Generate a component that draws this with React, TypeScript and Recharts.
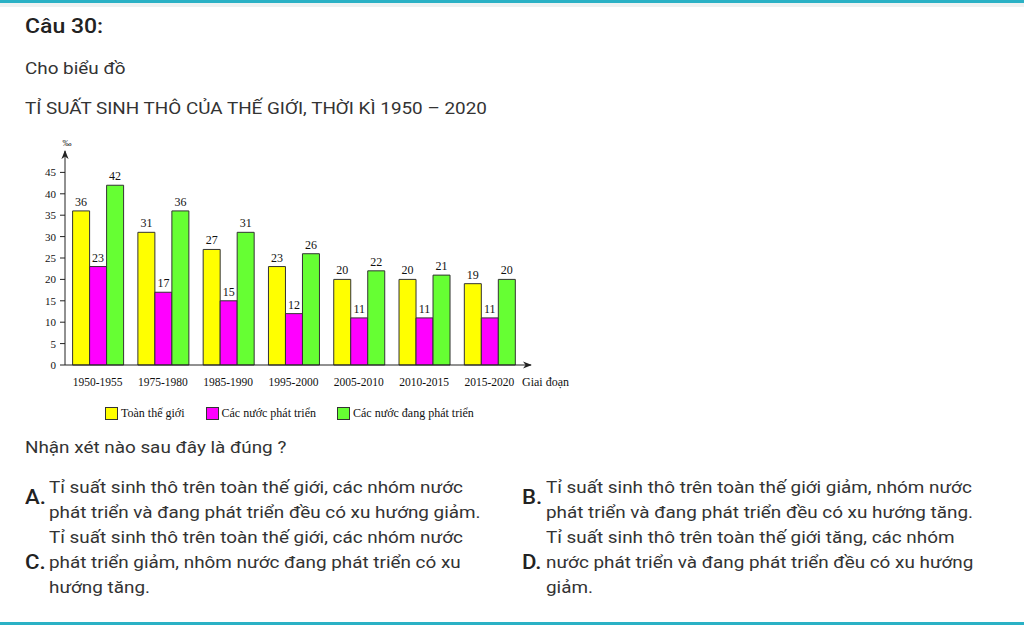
import React from "react";
import { BarChart, Bar, XAxis, YAxis, LabelList, Legend, Label } from "recharts";

const periods = ["1950-1955", "1975-1980", "1985-1990", "1995-2000", "2005-2010", "2010-2015", "2015-2020"];
const world = [36, 31, 27, 23, 20, 20, 19];
const developed = [23, 17, 15, 12, 11, 11, 11];
const developing = [42, 36, 31, 26, 22, 21, 20];
const yTicks = [0, 5, 10, 15, 20, 25, 30, 35, 40, 45];

const seriesNames = ["Toàn thế giới", "Các nước phát triển", "Các nước đang phát triển"];
const COLORS = ["#ffff00", "#ff00ff", "#66ff33"];

const data = periods.map((p, i) => ({
  period: p,
  world: world[i],
  developed: developed[i],
  developing: developing[i],
}));

const SERIF = "'Liberation Serif', 'DejaVu Serif', serif";

const LegendBox = () => (
  <div style={{ display: "flex", alignItems: "center", paddingLeft: 75, height: 18, fontFamily: SERIF, fontSize: 12, color: "#111" }}>
    {seriesNames.map((name, i) => (
      <div key={name} style={{ display: "flex", alignItems: "center", marginRight: 21 }}>
        <div style={{ width: 11, height: 11, background: COLORS[i], border: "1px solid #333", marginRight: 3 }} />
        {name}
      </div>
    ))}
  </div>
);

// the screenshot is slightly stretched horizontally
const stretch: React.CSSProperties = { transform: "scaleX(1.11)", transformOrigin: "left center" };
const text: React.CSSProperties = { position: "absolute", left: 25, fontSize: 17, lineHeight: "24px", color: "#333", whiteSpace: "nowrap", ...stretch };
const optLabel: React.CSSProperties = { position: "absolute", fontSize: 20, fontWeight: 500, lineHeight: "24px", color: "#222", ...stretch };
const optText: React.CSSProperties = { position: "absolute", fontSize: 17, lineHeight: "25px", color: "#333", whiteSpace: "nowrap", ...stretch };

export default function App() {
  return (
    <div style={{ position: "absolute", left: 0, top: 0, width: 1024, height: 627, overflow: "hidden", background: "#fff", fontFamily: "Roboto, sans-serif" }}>
      <svg width="0" height="0" style={{ position: "absolute" }}>
        <defs>
          <marker id="arrowHead" viewBox="0 0 10 10" refX="9" refY="5" markerWidth="9" markerHeight="9" markerUnits="userSpaceOnUse" orient="auto-start-reverse">
            <path d="M0,1 L10,5 L0,9 L3,5 z" fill="#222" />
          </marker>
        </defs>
      </svg>
      <div style={{ position: "absolute", left: 0, top: 0, width: 1024, height: 3, background: "#2ab1c5" }} />
      <div style={{ position: "absolute", left: 0, top: 3, width: 1024, height: 4, background: "#eef2f2" }} />
      <div style={{ position: "absolute", left: 0, top: 622, width: 1024, height: 3, background: "#2ab1c5" }} />

      <div style={{ ...text, top: 14, fontSize: 20, fontWeight: 500, color: "#222", transform: "scaleX(1.15)" }}>Câu 30:</div>
      <div style={{ ...text, top: 56 }}>Cho biểu đồ</div>
      <div style={{ ...text, top: 96 }}>TỈ SUẤT SINH THÔ CỦA THẾ GIỚI, THỜI KÌ 1950 – 2020</div>

      <div style={{ position: "absolute", left: 0, top: 130 }}>
        <BarChart
          width={600}
          height={300}
          data={data}
          margin={{ top: 21, right: 69, left: 30, bottom: 8 }}
          barCategoryGap={7.6}
          barGap={0}
        >
          <XAxis
            dataKey="period"
            padding={{ left: 0, right: 9 }}
            tickLine={false}
            tickMargin={7}
            height={39}
            axisLine={{ stroke: "#222", strokeWidth: 1, markerEnd: "url(#arrowHead)" }}
            tick={{ fontFamily: SERIF, fontSize: 11.5, fill: "#111" }}
            interval={0}
          >
            <Label
              content={(p: any) => (
                <text x={p.viewBox.x + p.viewBox.width - 9} y={p.viewBox.y + 21} fontFamily={SERIF} fontSize={12} fill="#111">
                  Giai đoạn
                </text>
              )}
            />
          </XAxis>
          <YAxis
            width={35}
            domain={[0, 50]}
            ticks={yTicks}
            interval={0}
            tickSize={5}
            tickMargin={4}
            axisLine={{ stroke: "#222", strokeWidth: 1, markerStart: "url(#arrowHead)" }}
            tickLine={{ stroke: "#222" }}
            tick={{ fontFamily: SERIF, fontSize: 11, fill: "#111" }}
          >
            <Label
              content={(p: any) => (
                <text x={p.viewBox.x + p.viewBox.width + 2} y={p.viewBox.y - 5} textAnchor="middle" fontFamily={SERIF} fontSize={9} fill="#111">
                  ‰
                </text>
              )}
            />
          </YAxis>
          <Legend verticalAlign="bottom" content={() => <LegendBox />} />
          <Bar dataKey="world" fill={COLORS[0]} stroke="#333" strokeWidth={1} isAnimationActive={false}>
            <LabelList dataKey="world" position="top" offset={5} style={{ fontFamily: SERIF, fontSize: 12, fill: "#111" }} />
          </Bar>
          <Bar dataKey="developed" fill={COLORS[1]} stroke="#333" strokeWidth={1} isAnimationActive={false}>
            <LabelList dataKey="developed" position="top" offset={5} style={{ fontFamily: SERIF, fontSize: 12, fill: "#111" }} />
          </Bar>
          <Bar dataKey="developing" fill={COLORS[2]} stroke="#333" strokeWidth={1} isAnimationActive={false}>
            <LabelList dataKey="developing" position="top" offset={5} style={{ fontFamily: SERIF, fontSize: 12, fill: "#111" }} />
          </Bar>
        </BarChart>
      </div>

      <div style={{ ...text, top: 435 }}>Nhận xét nào sau đây là đúng ?</div>

      <div style={{ ...optLabel, left: 25, top: 485 }}>A.</div>
      <div style={{ ...optText, left: 49, top: 475 }}>
        <div>Tỉ suất sinh thô trên toàn thế giới, các nhóm nước</div>
        <div>phát triển và đang phát triển đều có xu hướng giảm.</div>
      </div>
      <div style={{ ...optLabel, left: 522, top: 485 }}>B.</div>
      <div style={{ ...optText, left: 546, top: 475 }}>
        <div>Tỉ suất sinh thô trên toàn thế giới giảm, nhóm nước</div>
        <div>phát triển và đang phát triển đều có xu hướng tăng.</div>
      </div>
      <div style={{ ...optLabel, left: 25, top: 550 }}>C.</div>
      <div style={{ ...optText, left: 49, top: 525 }}>
        <div>Tỉ suất sinh thô trên toàn thế giới, các nhóm nước</div>
        <div>phát triển giảm, nhôm nước đang phát triển có xu</div>
        <div>hướng tăng.</div>
      </div>
      <div style={{ ...optLabel, left: 522, top: 550 }}>D.</div>
      <div style={{ ...optText, left: 546, top: 525 }}>
        <div>Tỉ suất sinh thô trên toàn thế giới tăng, các nhóm</div>
        <div>nước phát triển và đang phát triển đều có xu hướng</div>
        <div>giảm.</div>
      </div>
    </div>
  );
}
